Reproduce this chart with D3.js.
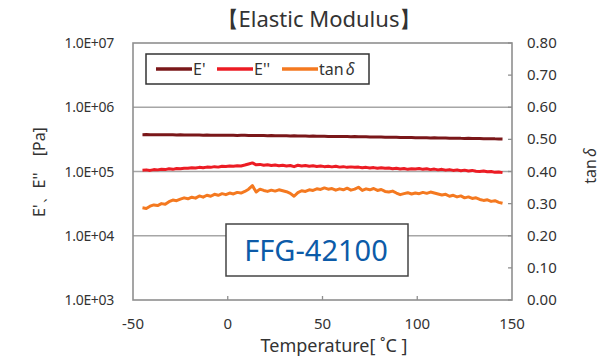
<!DOCTYPE html>
<html><head><meta charset="utf-8">
<script src="https://cdn.jsdelivr.net/npm/d3@7"></script>
<style>
html,body{margin:0;padding:0;background:#fff;}
text{font-family:"Noto Sans","Liberation Sans",sans-serif;fill:#333;}
</style></head>
<body><svg id="c" width="604" height="357"></svg>
<script>
const temps = [-45,-43,-41,-39,-37,-35,-33,-31,-29,-27,-25,-23,-21,-19,-17,-15,-13,-11,-9,-7,-5,-3,-1,1,3,5,7,9,11,13,15,17,19,21,23,25,27,29,31,33,35,37,39,41,43,45,47,49,51,53,55,57,59,61,63,65,67,69,71,73,75,77,79,81,83,85,87,89,91,93,95,97,99,101,103,105,107,109,111,113,115,117,119,121,123,125,127,129,131,133,135,137,139,141,143,145];
// E' [x1e5 Pa]
const eStorage = [3.74,3.75,3.73,3.74,3.74,3.72,3.73,3.72,3.73,3.71,3.72,3.70,3.71,3.70,3.69,3.70,3.68,3.69,3.67,3.68,3.67,3.66,3.67,3.65,3.66,3.64,3.65,3.66,3.64,3.63,3.64,3.62,3.63,3.61,3.62,3.60,3.61,3.59,3.60,3.58,3.59,3.57,3.56,3.57,3.55,3.56,3.54,3.53,3.54,3.52,3.51,3.52,3.50,3.51,3.49,3.48,3.49,3.47,3.46,3.47,3.45,3.44,3.45,3.43,3.42,3.41,3.42,3.40,3.39,3.38,3.39,3.37,3.36,3.35,3.36,3.34,3.33,3.34,3.32,3.31,3.32,3.30,3.29,3.30,3.28,3.27,3.28,3.26,3.25,3.26,3.24,3.23,3.24,3.22,3.21,3.20];
// E'' [x1e5 Pa]
const eLoss = [1.05,1.06,1.04,1.07,1.06,1.08,1.07,1.10,1.08,1.11,1.10,1.12,1.12,1.14,1.13,1.16,1.14,1.17,1.16,1.19,1.17,1.21,1.20,1.22,1.21,1.23,1.22,1.26,1.31,1.36,1.27,1.29,1.25,1.27,1.24,1.26,1.23,1.25,1.22,1.24,1.19,1.25,1.22,1.24,1.21,1.23,1.20,1.22,1.19,1.21,1.18,1.21,1.17,1.19,1.16,1.18,1.16,1.17,1.14,1.16,1.13,1.15,1.12,1.14,1.12,1.13,1.10,1.12,1.09,1.11,1.08,1.10,1.09,1.11,1.08,1.10,1.07,1.09,1.06,1.08,1.05,1.07,1.04,1.06,1.03,1.05,1.02,1.04,1.01,1.00,1.02,0.99,1.00,0.97,0.98,0.96];
// tan delta
const tanDelta = [0.287,0.285,0.292,0.296,0.294,0.300,0.298,0.306,0.311,0.309,0.314,0.318,0.315,0.320,0.317,0.324,0.320,0.326,0.323,0.329,0.326,0.331,0.328,0.333,0.330,0.335,0.333,0.338,0.345,0.356,0.336,0.345,0.341,0.338,0.342,0.339,0.343,0.340,0.337,0.332,0.323,0.334,0.340,0.338,0.343,0.341,0.346,0.344,0.349,0.345,0.347,0.342,0.346,0.343,0.348,0.342,0.345,0.351,0.341,0.346,0.343,0.347,0.341,0.344,0.338,0.336,0.339,0.333,0.328,0.331,0.334,0.330,0.333,0.331,0.335,0.332,0.336,0.333,0.330,0.327,0.329,0.323,0.326,0.321,0.324,0.318,0.321,0.316,0.318,0.313,0.310,0.312,0.307,0.309,0.304,0.301];

const xTicks = [-50,0,50,100,150];
const yLeftTicks = [1e3,1e4,1e5,1e6,1e7];
const yLeftLabels = ["1.0E+03","1.0E+04","1.0E+05","1.0E+06","1.0E+07"];
const yRightTicks = [0,0.1,0.2,0.3,0.4,0.5,0.6,0.7,0.8];
const seriesNames = ["E'","E''","tan"];
const colors = ["#7a1719","#ec1c24","#f47920"];

const svg = d3.select("#c");
const L=133, R=512, T=43, B=300;
const x = d3.scaleLinear().domain([-50,150]).range([L,R]);
const yL = d3.scaleLog().domain([1e3,1e7]).range([B,T]);
const yR = d3.scaleLinear().domain([0,0.8]).range([B,T]);

// gridlines
svg.append("g").selectAll("line").data(yLeftTicks.slice(1,-1)).join("line")
  .attr("x1",L).attr("x2",R).attr("y1",d=>yL(d)).attr("y2",d=>yL(d))
  .attr("stroke","#a6a6a6").attr("stroke-width",1.3);

// plot frame
svg.append("rect").attr("x",L).attr("y",T).attr("width",R-L).attr("height",B-T)
  .attr("fill","none").attr("stroke","#8f8f8f").attr("stroke-width",1.6);

// inner ticks bottom
svg.append("g").selectAll("line").data(xTicks.slice(1,-1)).join("line")
  .attr("x1",d=>x(d)).attr("x2",d=>x(d)).attr("y1",B).attr("y2",B-4)
  .attr("stroke","#8f8f8f").attr("stroke-width",1.3);
// inner ticks right
svg.append("g").selectAll("line").data(yRightTicks).join("line")
  .attr("x1",R).attr("x2",R-4).attr("y1",d=>yR(d)).attr("y2",d=>yR(d))
  .attr("stroke","#8f8f8f").attr("stroke-width",1.3);

// tick labels
svg.append("g").selectAll("text").data(xTicks).join("text")
  .attr("x",d=>x(d)).attr("y",329).attr("text-anchor","middle")
  .attr("font-size",15).text(d=>d);
svg.append("g").selectAll("text").data(yLeftTicks).join("text")
  .attr("x",114).attr("y",d=>yL(d)+5).attr("text-anchor","end")
  .attr("font-size",14).attr("letter-spacing",-0.3).text((d,i)=>yLeftLabels[i]);
svg.append("g").selectAll("text").data(yRightTicks).join("text")
  .attr("x",527).attr("y",d=>yR(d)+5).attr("text-anchor","start")
  .attr("font-size",15).text(d=>d.toFixed(2));

// titles
svg.append("text").attr("x",319).attr("y",27).attr("text-anchor","middle")
  .attr("font-size",22).text("\u3010Elastic Modulus\u3011");
svg.append("text").attr("x",334).attr("y",352).attr("text-anchor","middle")
  .attr("font-size",18).text("Temperature[ \u02DAC ]");
svg.append("text").attr("transform","translate(45,172) rotate(-90)").attr("text-anchor","middle")
  .attr("font-size",16).text("E'\u3001E''\u3000[Pa]");
const rt = svg.append("text").attr("transform","translate(596,166) rotate(-90)").attr("text-anchor","middle")
  .attr("font-size",16);
rt.append("tspan").text("tan");
rt.append("tspan").attr("font-style","italic").attr("dx",2).text("\u03B4");

// lines
const lineL = d3.line().x((d,i)=>x(temps[i])).y(d=>yL(d*1e5));
const lineR = d3.line().x((d,i)=>x(temps[i])).y(d=>yR(d));
svg.append("path").datum(eStorage).attr("d",lineL).attr("fill","none")
  .attr("stroke",colors[0]).attr("stroke-width",3).attr("stroke-linejoin","round");
svg.append("path").datum(eLoss).attr("d",lineL).attr("fill","none")
  .attr("stroke",colors[1]).attr("stroke-width",3).attr("stroke-linejoin","round");
svg.append("path").datum(tanDelta).attr("d",lineR).attr("fill","none")
  .attr("stroke",colors[2]).attr("stroke-width",3).attr("stroke-linejoin","round");

// legend
const lg = svg.append("g");
lg.append("rect").attr("x",146).attr("y",54).attr("width",223).attr("height",30)
  .attr("fill","#fff").attr("stroke","#333").attr("stroke-width",1.5);
const lx = [156,217,282];
seriesNames.forEach((n,i)=>{
  lg.append("line").attr("x1",lx[i]).attr("x2",lx[i]+36).attr("y1",69).attr("y2",69)
    .attr("stroke",colors[i]).attr("stroke-width",3.5);
  const t = lg.append("text").attr("x",lx[i]+37).attr("y",75).attr("font-size",16).text(n);
  if(i===2) t.append("tspan").attr("font-style","italic").attr("dx",2).text("\u03B4");
});

// sample label box
const sb = svg.append("g");
sb.append("rect").attr("x",226).attr("y",224).attr("width",182).attr("height",52)
  .attr("fill","#fff").attr("stroke","#444").attr("stroke-width",1.5);
sb.append("text").attr("x",316).attr("y",261).attr("text-anchor","middle")
  .attr("font-size",29).style("fill","#0c5ba8").text("FFG-42100");
</script></body></html>
